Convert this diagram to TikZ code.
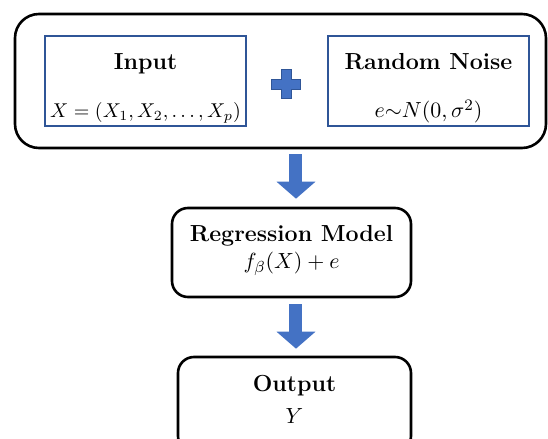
\documentclass[tikz,border=0pt]{standalone}
\usepackage{amsmath,amssymb}
\usetikzlibrary{arrows.meta}
\definecolor{officeblue}{HTML}{4472C4}
\definecolor{edgeblue}{HTML}{2F5597}

\begin{document}
\begin{tikzpicture}[x=0.5pt,y=-0.5pt,
		outer_style/.style={draw=black,line width=1.3pt,rounded corners=12pt,inner sep=0pt},
		blue_style/.style={draw=edgeblue,line width=0.7pt,inner sep=0pt},
		model_style/.style={draw=black,line width=1.3pt,rounded corners=8pt,inner sep=0pt},
		title_style/.style={anchor=base,inner sep=0pt,font=\fontsize{11.6}{14}\selectfont\bfseries},
		math_style/.style={anchor=base,inner sep=0pt,font=\fontsize{11}{13}\selectfont},
		arrow_style/.style={draw=officeblue,line width=6.5pt,-{Triangle[width=19pt,length=8.5pt]}}]
		
		\useasboundingbox (0,0) rectangle (548,439);
		\clip (0,0) rectangle (548,439);
		
		% boxes
		\node[outer_style,minimum width=265.5pt,minimum height=67pt] (outer) at (280.5,81) {};
		\node[blue_style,minimum width=100.5pt,minimum height=45pt] (input) at (145.5,81) {};
		\node[blue_style,minimum width=100.5pt,minimum height=45pt] (noise) at (428.5,81) {};
		\node[model_style,minimum width=119.5pt,minimum height=44.5pt] (reg) at (291.5,252.5) {};
		\node[model_style,minimum width=116.5pt,minimum height=47.5pt] (out) at (294.5,404.5) {};
		
		% texts
		\node[title_style] (inT) at (145.5,69) {Input};
		\node[math_style,font=\fontsize{10.4}{13}\selectfont] (inM) at (145.5,118) {$X=\left(X_1,X_2,\dots,X_p\right)$};
		\node[title_style] (noiseT) at (428.5,69) {Random Noise};
		\node[math_style] (noiseM) at (428.5,118) {$e{\sim}N(0,\sigma^2)$};
		\node[title_style] (regT) at (291.5,242) {Regression Model};
		\node[math_style] (regM) at (291.5,269) {$f_\beta(X)+e$};
		\node[title_style] (outT) at (294.5,392) {Output};
		\node[math_style] (outM) at (294.5,423) {$Y$};
		
		% plus sign
		\filldraw[fill=officeblue,draw=edgeblue,line width=0.5pt]
			(281.5,70) -- (291.5,70) -- (291.5,79.5) -- (301,79.5) -- (301,89.5) -- (291.5,89.5)
			-- (291.5,99) -- (281.5,99) -- (281.5,89.5) -- (272,89.5) -- (272,79.5) -- (281.5,79.5) -- cycle;
		
		% arrows
		\draw[arrow_style,shorten <=2.5pt,shorten >=4pt] ([xshift=2.25pt]reg.north |- outer.south) -- ([xshift=2.25pt]reg.north);
		\draw[arrow_style,shorten <=3pt,shorten >=3.5pt] ([xshift=2.25pt]reg.south) -- ([xshift=2.25pt]reg.south |- out.north);
\end{tikzpicture}
\end{document}
